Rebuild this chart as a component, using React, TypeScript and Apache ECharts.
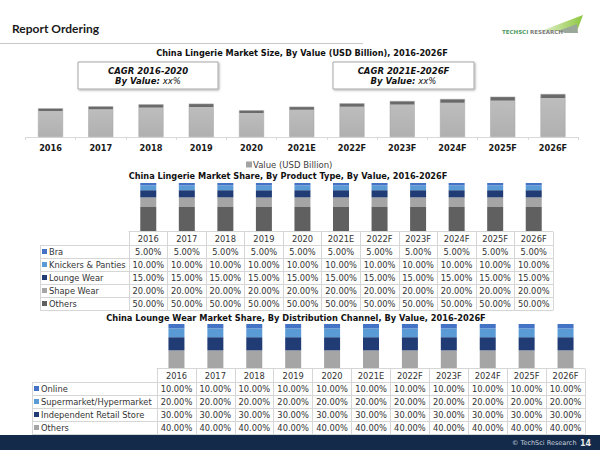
import React, { useEffect, useRef } from 'react';
import * as echarts from 'echarts';

const years = ['2016', '2017', '2018', '2019', '2020', '2021E', '2022F', '2023F', '2024F', '2025F', '2026F'];

// Chart 1: market size (USD Billion) (no axis given)
const marketValue = [8.6, 9.2, 9.8, 10.0, 8.0, 9.1, 10.1, 10.8, 11.4, 12.1, 12.9];

// Chart 2: share by product type (%)
const productTypes = ['Bra', 'Knickers & Panties', 'Lounge Wear', 'Shape Wear', 'Others'];
const braShare = [5, 5, 5, 5, 5, 5, 5, 5, 5, 5, 5];
const knickersShare = [10, 10, 10, 10, 10, 10, 10, 10, 10, 10, 10];
const loungeShare = [15, 15, 15, 15, 15, 15, 15, 15, 15, 15, 15];
const shapeShare = [20, 20, 20, 20, 20, 20, 20, 20, 20, 20, 20];
const othersProductShare = [50, 50, 50, 50, 50, 50, 50, 50, 50, 50, 50];

// Chart 3: share by distribution channel (%)
const channels = ['Online', 'Supermarket/Hypermarket', 'Independent Retail Store', 'Others'];
const onlineShare = [10, 10, 10, 10, 10, 10, 10, 10, 10, 10, 10];
const supermarketShare = [20, 20, 20, 20, 20, 20, 20, 20, 20, 20, 20];
const independentShare = [30, 30, 30, 30, 30, 30, 30, 30, 30, 30, 30];
const othersChannelShare = [40, 40, 40, 40, 40, 40, 40, 40, 40, 40, 40];

const FONT = '"DejaVu Sans", Verdana, sans-serif';
const BORDER = '#d6d6d6';
const TXT = '#333333';

const productSeries = [
  { name: 'Others', data: othersProductShare, color: '#606060' },
  { name: 'Shape Wear', data: shapeShare, color: '#a5a5a5' },
  { name: 'Lounge Wear', data: loungeShare, color: '#213c74' },
  { name: 'Knickers & Panties', data: knickersShare, color: '#5b9bd5' },
  { name: 'Bra', data: braShare, color: '#4472c4' },
];
const channelSeries = [
  { name: 'Others', data: othersChannelShare, color: '#a5a5a5' },
  { name: 'Independent Retail Store', data: independentShare, color: '#213c74' },
  { name: 'Supermarket/Hypermarket', data: supermarketShare, color: '#5b9bd5' },
  { name: 'Online', data: onlineShare, color: '#4472c4' },
];

const ROW = 13;
const pct = (v: number) => v.toFixed(2) + '%';

function tableAxis(gridIndex: number, offset: number, labels: string[] | null, showTicks = true) {
  return {
    type: 'category',
    gridIndex,
    data: years,
    position: 'bottom',
    offset,
    axisLine: { show: true, lineStyle: { color: BORDER, width: 1 } },
    axisTick: { show: showTicks, inside: true, length: ROW, interval: 0, alignWithLabel: false, lineStyle: { color: BORDER } },
    axisLabel: labels
      ? {
          show: true,
          interval: 0,
          inside: true,
          margin: 6.5,
          verticalAlign: 'middle',
          fontFamily: FONT,
          fontSize: 8.3,
          color: TXT,
          formatter: (_v: string, i: number) => labels[i],
        }
      : { show: false },
    splitLine: { show: false },
  };
}

function leftColumn(x0: number, x1: number, yTop: number, rows: number) {
  const els: any[] = [];
  for (let i = 0; i <= rows; i++) {
    const y = yTop + i * ROW + 0.5;
    els.push({ type: 'line', shape: { x1: x0, y1: y, x2: x1, y2: y }, style: { stroke: BORDER, lineWidth: 1 }, silent: true });
  }
  els.push({ type: 'line', shape: { x1: x0 + 0.5, y1: yTop, x2: x0 + 0.5, y2: yTop + rows * ROW + 1 }, style: { stroke: BORDER, lineWidth: 1 }, silent: true });
  return els;
}

function cagrBox(x: number, y: number, w: number, h: number, period: string) {
  return [
    {
      type: 'rect',
      shape: { x, y, width: w, height: h },
      style: { fill: '#fff', stroke: '#a8a8a8', lineWidth: 1, shadowBlur: 2, shadowOffsetX: 1, shadowOffsetY: 1, shadowColor: 'rgba(0,0,0,0.3)' },
    },
    {
      type: 'text',
      x: x + w / 2,
      y: y + 9,
      style: { text: 'CAGR ' + period, font: `italic bold 8.5px ${FONT}`, fill: '#111', align: 'center', verticalAlign: 'middle' },
    },
    {
      type: 'text',
      x: x + w / 2,
      y: y + 19,
      style: {
        text: '{b|By Value: }{n|xx%}',
        align: 'center',
        verticalAlign: 'middle',
        rich: {
          b: { font: `italic bold 8.5px ${FONT}`, fill: '#111' },
          n: { font: `italic 8.5px ${FONT}`, fill: '#111' },
        },
      },
    },
  ];
}

function buildOption() {
  const xAxis: any[] = [];
  // 0: chart 1
  xAxis.push({
    type: 'category',
    gridIndex: 0,
    data: years,
    axisLine: { lineStyle: { color: '#d9d9d9' } },
    axisTick: { show: true, length: 3, lineStyle: { color: '#d9d9d9' } },
    axisLabel: { interval: 0, margin: 7, fontFamily: FONT, fontSize: 8.2, fontWeight: 'bold', color: '#1a1a1a' },
  });
  // chart 2 (main axis = top border, header, rows)
  xAxis.push(tableAxis(1, 1, null, false));
  xAxis.push(tableAxis(1, 1 + ROW, years));
  const prodRows = [braShare, knickersShare, loungeShare, shapeShare, othersProductShare];
  prodRows.forEach((r, i) => xAxis.push(tableAxis(1, 1 + ROW * (i + 2), r.map(pct))));
  const ch3Main = xAxis.length;
  xAxis.push(tableAxis(2, 1, null, false));
  xAxis.push(tableAxis(2, 1 + ROW, years));
  const chanRows = [onlineShare, supermarketShare, independentShare, othersChannelShare];
  chanRows.forEach((r, i) => xAxis.push(tableAxis(2, 1 + ROW * (i + 2), r.map(pct))));

  const series: any[] = [
    {
      type: 'bar',
      name: 'Value (USD Billion)',
      xAxisIndex: 0,
      yAxisIndex: 0,
      barWidth: 25,
      data: marketValue,
      itemStyle: {
        color: new echarts.graphic.LinearGradient(0, 0, 0, 1, [
          { offset: 0, color: '#6a6a6a' },
          { offset: 0.08, color: '#6a6a6a' },
          { offset: 0.1, color: '#bdbdbd' },
          { offset: 1, color: '#b0b0b0' },
        ]),
        borderColor: '#a3a3a3',
        borderWidth: 0.5,
      },
    },
    ...productSeries.map((s) => ({
      type: 'bar',
      name: s.name,
      stack: 'product',
      xAxisIndex: 1,
      yAxisIndex: 1,
      barWidth: 16,
      data: s.data,
      itemStyle: { color: s.color },
    })),
    ...channelSeries.map((s) => ({
      type: 'bar',
      name: s.name,
      stack: 'channel',
      xAxisIndex: ch3Main,
      yAxisIndex: 2,
      barWidth: 16,
      data: s.data,
      itemStyle: { color: s.color },
    })),
  ];

  const legendText = { fontFamily: FONT, fontSize: 8.3, color: TXT, lineHeight: ROW };
  const legendBase = {
    orient: 'vertical',
    padding: 0,
    itemGap: 0,
    itemWidth: 5,
    itemHeight: 5,
    icon: 'rect',
    selectedMode: false,
    textStyle: { ...legendText, padding: [0, 0, 0, -3] },
  };

  return {
    animation: false,
    backgroundColor: '#ffffff',
    grid: [
      { left: 25.4, right: 21.9, top: 62, bottom: 313, outerBoundsMode: 'none', containLabel: false },
      { left: 129, right: 47, top: 183, bottom: 219, outerBoundsMode: 'none', containLabel: false },
      { left: 157, right: 15, top: 324, bottom: 82, outerBoundsMode: 'none', containLabel: false },
    ],
    xAxis,
    yAxis: [
      { type: 'value', gridIndex: 0, min: 0, max: 22.5, show: false },
      { type: 'value', gridIndex: 1, min: 0, max: 100, show: false },
      { type: 'value', gridIndex: 2, min: 0, max: 100, show: false },
    ],
    legend: [
      {
        orient: 'horizontal',
        left: 246,
        top: 160,
        padding: 0,
        itemWidth: 4,
        itemHeight: 4,
        icon: 'rect',
        selectedMode: false,
        data: [{ name: 'Value (USD Billion)', itemStyle: { color: '#a0a0a0' } }],
        textStyle: { fontFamily: FONT, fontSize: 8.5, color: '#404040', padding: [0, 0, 0, -3] },
      },
      {
        ...legendBase,
        left: 42,
        top: 245,
        data: productTypes.map((n) => ({
          name: n,
          itemStyle: { color: productSeries.find((s) => s.name === n)!.color },
        })),
      },
      {
        ...legendBase,
        left: 34,
        top: 382,
        data: channels.map((n) => ({
          name: n,
          itemStyle: { color: channelSeries.find((s) => s.name === n)!.color },
        })),
      },
    ],
    series,
    graphic: [
      { type: 'text', x: 12, y: 28, style: { text: 'Report Ordering', font: 'bold 12px Lato, "Open Sans", sans-serif', fill: '#1a1a1a', verticalAlign: 'middle' } },
      { type: 'line', shape: { x1: 0, y1: 43.5, x2: 363, y2: 43.5 }, style: { stroke: '#c8c8c8', lineWidth: 1 } },
      // logo
      {
        type: 'polygon',
        shape: { points: [[541, 31], [583, 15], [577, 31]] },
        style: {
          fill: new echarts.graphic.LinearGradient(0, 0, 1, 0, [
            { offset: 0, color: '#e4f1cf' },
            { offset: 1, color: '#8cc63f' },
          ]),
        },
      },
      { type: 'polygon', shape: { points: [[558, 31], [577, 24], [578, 33], [565, 33]] }, style: { fill: '#9aa89a' } },
      { type: 'text', x: 502, y: 31.5, style: { text: 'TECHSCI', font: `bold 5.5px ${FONT}`, fill: '#4e9a63', verticalAlign: 'middle' } },
      { type: 'text', x: 530, y: 31.5, style: { text: 'RESEARCH', font: `bold 5.5px ${FONT}`, fill: '#7c7c7c', verticalAlign: 'middle' } },
      // titles
      { type: 'text', x: 302, y: 52.5, style: { text: 'China Lingerie Market Size, By Value (USD Billion), 2016-2026F', font: `bold 8.2px ${FONT}`, fill: '#111', align: 'center', verticalAlign: 'middle' } },
      { type: 'text', x: 288, y: 176, style: { text: 'China Lingerie Market Share, By Product Type, By Value, 2016-2026F', font: `bold 8.2px ${FONT}`, fill: '#111', align: 'center', verticalAlign: 'middle' } },
      { type: 'text', x: 296, y: 318, style: { text: 'China Lounge Wear Market Share, By Distribution Channel, By Value, 2016-2026F', font: `bold 8.25px ${FONT}`, fill: '#111', align: 'center', verticalAlign: 'middle' } },
      ...cagrBox(78, 62, 140, 27, '2016-2020'),
      ...cagrBox(333, 62, 141, 27, '2021E-2026F'),
      ...leftColumn(40, 129, 245, 5),
      ...leftColumn(32, 157, 382, 4),
      // footer
      { type: 'rect', shape: { x: 0, y: 435, width: 600, height: 15 }, style: { fill: '#132a4b' } },
      { type: 'text', x: 512, y: 443, style: { text: '© TechSci Research', font: `6.5px ${FONT}`, fill: '#c9d1dc', verticalAlign: 'middle' } },
      { type: 'text', x: 580, y: 443, style: { text: '14', font: `bold 8px ${FONT}`, fill: '#e8e8e8', verticalAlign: 'middle' } },
    ],
  };
}

export default function App() {
  const ref = useRef<HTMLDivElement>(null);
  useEffect(() => {
    if (!ref.current) return;
    const chart = echarts.init(ref.current, null, { renderer: 'svg' });
    chart.setOption(buildOption() as any);
    return () => chart.dispose();
  }, []);
  return (
    <div
      ref={ref}
      style={{ position: 'absolute', left: 0, top: 0, width: 600, height: 450, background: '#fff' }}
    />
  );
}
